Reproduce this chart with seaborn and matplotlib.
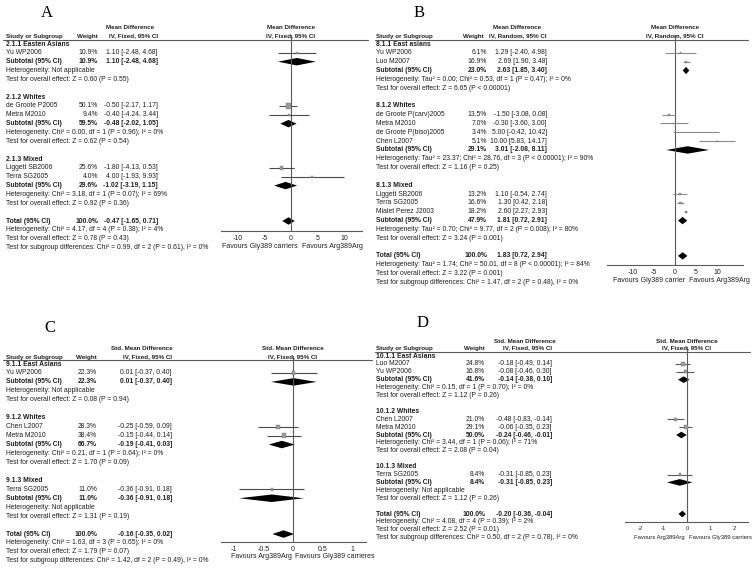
import numpy as np
import pandas as pd
import matplotlib.pyplot as plt
import seaborn as sns

sns.set_style('white')
plt.rcParams['font.family'] = ['Liberation Sans', 'DejaVu Sans']

# ---- A: mean difference, IV fixed
a_groups = ['2.1.1 Easten Asians', '2.1.2 Whites', '2.1.3 Mixed']
a_studies = [['Yu WP2006'], ['de Groote P2005', 'Metra M2010'], ['Liggett SB2006', 'Terra SG2005']]
a_weight = [[10.9], [50.1, 9.4], [25.6, 4.0]]
a_est = [[1.10], [-0.50, -0.40], [-1.80, 4.00]]
a_low = [[-2.48], [-2.17, -4.24], [-4.13, -1.93]]
a_high = [[4.68], [1.17, 3.44], [0.53, 9.93]]
a_sub = [[10.9, 1.10, -2.48, 4.68], [59.5, -0.48, -2.02, 1.05], [29.6, -1.02, -3.19, 1.15]]
a_het = ['Heterogeneity: Not applicable',
         'Heterogeneity: Chi² = 0.00, df = 1 (P = 0.96); I² = 0%',
         'Heterogeneity: Chi² = 3.18, df = 1 (P = 0.07); I² = 69%']
a_z = ['Test for overall effect: Z = 0.60 (P = 0.55)',
       'Test for overall effect: Z = 0.62 (P = 0.54)',
       'Test for overall effect: Z = 0.92 (P = 0.36)']
a_total = [100.0, -0.47, -1.65, 0.71]
a_foot = ['Heterogeneity: Chi² = 4.17, df = 4 (P = 0.38); I² = 4%',
          'Test for overall effect: Z = 0.78 (P = 0.43)',
          'Test for subgroup differences: Chi² = 0.99, df = 2 (P = 0.61), I² = 0%']
a_ticks = [-10, -5, 0, 5, 10]
a_favours = ['Favours Gly389 carriers', 'Favours Arg389Arg']

# ---- B: mean difference, IV random
b_groups = ['8.1.1 East asians', '8.1.2 Whites', '8.1.3 Mixed']
b_studies = [['Yu WP2006', 'Luo M2007'],
             ['de Groote P(carv)2005', 'Metra M2010', 'de Groote P(biso)2005', 'Chen L2007'],
             ['Liggett SB2006', 'Terra SG2005', 'Mialet Perez J2003']]
b_weight = [[6.1, 16.9], [13.5, 7.0, 3.4, 5.1], [13.2, 16.6, 18.2]]
b_est = [[1.29, 2.69], [-1.50, -0.30, 5.00, 10.00], [1.10, 1.30, 2.60]]
b_low = [[-2.40, 1.90], [-3.08, -3.60, -0.42, 5.83], [-0.54, 0.42, 2.27]]
b_high = [[4.98, 3.48], [0.08, 3.00, 10.42, 14.17], [2.74, 2.18, 2.93]]
b_sub = [[23.0, 2.63, 1.85, 3.40], [29.1, 3.01, -2.08, 8.11], [47.9, 1.81, 0.72, 2.91]]
b_het = ['Heterogeneity: Tau² = 0.00; Chi² = 0.53, df = 1 (P = 0.47); I² = 0%',
         'Heterogeneity: Tau² = 23.37; Chi² = 28.76, df = 3 (P < 0.00001); I² = 90%',
         'Heterogeneity: Tau² = 0.70; Chi² = 9.77, df = 2 (P = 0.008); I² = 80%']
b_z = ['Test for overall effect: Z = 6.65 (P < 0.00001)',
       'Test for overall effect: Z = 1.16 (P = 0.25)',
       'Test for overall effect: Z = 3.24 (P = 0.001)']
b_total = [100.0, 1.83, 0.72, 2.94]
b_foot = ['Heterogeneity: Tau² = 1.74; Chi² = 50.01, df = 8 (P < 0.00001); I² = 84%',
          'Test for overall effect: Z = 3.22 (P = 0.001)',
          'Test for subgroup differences: Chi² = 1.47, df = 2 (P = 0.48), I² = 0%']
b_ticks = [-10, -5, 0, 5, 10]
b_favours = ['Favours Gly389 carrier', 'Favours Arg389Arg']

# ---- C: std. mean difference, IV fixed
c_groups = ['9.1.1 East Asians', '9.1.2 Whites', '9.1.3 Mixed']
c_studies = [['Yu WP2006'], ['Chen L2007', 'Metra M2010'], ['Terra SG2005']]
c_weight = [[22.3], [28.3, 38.4], [11.0]]
c_est = [[0.01], [-0.25, -0.15], [-0.36]]
c_low = [[-0.37], [-0.59, -0.44], [-0.91]]
c_high = [[0.40], [0.09, 0.14], [0.18]]
c_sub = [[22.3, 0.01, -0.37, 0.40], [66.7, -0.19, -0.41, 0.03], [11.0, -0.36, -0.91, 0.18]]
c_het = ['Heterogeneity: Not applicable',
         'Heterogeneity: Chi² = 0.21, df = 1 (P = 0.64); I² = 0%',
         'Heterogeneity: Not applicable']
c_z = ['Test for overall effect: Z = 0.08 (P = 0.94)',
       'Test for overall effect: Z = 1.70 (P = 0.09)',
       'Test for overall effect: Z = 1.31 (P = 0.19)']
c_total = [100.0, -0.16, -0.35, 0.02]
c_foot = ['Heterogeneity: Chi² = 1.63, df = 3 (P = 0.65); I² = 0%',
          'Test for overall effect: Z = 1.79 (P = 0.07)',
          'Test for subgroup differences: Chi² = 1.42, df = 2 (P = 0.49), I² = 0%']
c_ticks = [-1, -0.5, 0, 0.5, 1]
c_favours = ['Favours Arg389Arg', 'Favours Gly389 carrieres']

# ---- D: std. mean difference, IV fixed
d_groups = ['10.1.1 East Asians', '10.1.2 Whites', '10.1.3 Mixed']
d_studies = [['Luo M2007', 'Yu WP2006'], ['Chen L2007', 'Metra M2010'], ['Terra SG2005']]
d_weight = [[24.8, 16.8], [21.0, 29.1], [8.4]]
d_est = [[-0.18, -0.08], [-0.48, -0.06], [-0.31]]
d_low = [[-0.49, -0.46], [-0.83, -0.35], [-0.85]]
d_high = [[0.14, 0.30], [-0.14, 0.23], [0.23]]
d_sub = [[41.6, -0.14, -0.38, 0.10], [50.0, -0.24, -0.46, -0.01], [8.4, -0.31, -0.85, 0.23]]
d_het = ['Heterogeneity: Chi² = 0.15, df = 1 (P = 0.70); I² = 0%',
         'Heterogeneity: Chi² = 3.44, df = 1 (P = 0.06); I² = 71%',
         'Heterogeneity: Not applicable']
d_z = ['Test for overall effect: Z = 1.12 (P = 0.26)',
       'Test for overall effect: Z = 2.08 (P = 0.04)',
       'Test for overall effect: Z = 1.12 (P = 0.26)']
d_total = [100.0, -0.20, -0.36, -0.04]
d_foot = ['Heterogeneity: Chi² = 4.08, df = 4 (P = 0.39); I² = 2%',
          'Test for overall effect: Z = 2.52 (P = 0.01)',
          'Test for subgroup differences: Chi² = 0.50, df = 2 (P = 0.78), I² = 0%']
d_ticks = [-2, -1, 0, 1, 2]
d_favours = ['Favours Arg389Arg', 'Favours Gly389 carriers']

W, H = 753, 569
FS = 4.9
HFS = 4.5
TXT = '#1e1e1e'
LINE = '#5a5a5a'

fig = plt.figure(figsize=(W / 100, H / 100), dpi=100)
ov = fig.add_axes([0, 0, 1, 1])
ov.set_xlim(0, W)
ov.set_ylim(H, 0)
ov.axis('off')


def eff(v):
    return f'{v[1]:.2f} [{v[2]:.2f}, {v[3]:.2f}]'


def diamond(ax, r, v, hh=0.42):
    ax.fill([v[2], v[1], v[3], v[1]], [r, r - hh, r, r + hh], color='black', lw=0)


def put(x, yy, s, bold=False, ha='left', fs=FS):
    ov.text(x, yy, s, fontsize=fs, weight='bold' if bold else 'normal',
            ha=ha, va='center', color=TXT)


def draw_panel(letter, measure, method, groups, studies, weight, est, low, high,
               sub, het, z, total, foot, ticks, favours, L):
    y = lambda r: L['y0'] + L['h'] * r
    ov.text(L['lx'], L['ly'], letter, family='Liberation Serif', fontsize=12,
            ha='center', va='center', color='black')
    # header
    put(L['xh'], L['yh1'], measure, True, 'center', HFS)
    put(L['xe'], L['yh2'], method, True, 'right', HFS)
    put(L['xs'], L['yh2'], 'Study or Subgroup', True, 'left', HFS)
    put(L['xw'] - L['wd'], L['yh2'], 'Weight', True, 'right', HFS)
    put(L['zero'], L['yh1'], measure, True, 'center', HFS)
    put(L['zero'], L['yh2'], method, True, 'center', HFS)
    ov.plot([L['lx0'], L['lx1']], [L['yl'], L['yl']], color=LINE, lw=0.8)

    # forest axes placed in pixel space
    yt, yb = L['yh2'] - 1, L['ya']
    ax = fig.add_axes([L['al'] / W, 1 - yb / H, (L['ar'] - L['al']) / W, (yb - yt) / H])
    ax.set_xlim((L['al'] - L['zero']) / L['sc'], (L['ar'] - L['zero']) / L['sc'])
    ax.set_ylim((yb - L['y0']) / L['h'], (yt - L['y0']) / L['h'])
    ax.patch.set_alpha(0)

    recs = []
    r = 0
    for gi, g in enumerate(groups):
        put(L['xs'], y(r), g, True)
        r += 1
        for si, s in enumerate(studies[gi]):
            v = [weight[gi][si], est[gi][si], low[gi][si], high[gi][si]]
            put(L['xs'], y(r), s)
            put(L['xw'], y(r), f'{v[0]:.1f}%', ha='right')
            put(L['xe'], y(r), eff(v), ha='right')
            recs.append({'row': r, 'w': v[0], 'est': v[1], 'lo': v[2], 'hi': v[3]})
            r += 1
        v = sub[gi]
        put(L['xs'], y(r), 'Subtotal (95% CI)', True)
        put(L['xw'], y(r), f'{v[0]:.1f}%', True, 'right')
        put(L['xe'], y(r), eff(v), True, 'right')
        diamond(ax, r, v)
        r += 1
        put(L['xs'], y(r), het[gi])
        put(L['xs'], y(r + 1), z[gi])
        r += 3
    put(L['xs'], y(r), 'Total (95% CI)', True)
    put(L['xw'], y(r), f'{total[0]:.1f}%', True, 'right')
    put(L['xe'], y(r), eff(total), True, 'right')
    diamond(ax, r, total)
    for k, t in enumerate(foot):
        put(L['xs'], y(r + 1 + k), t)

    df = pd.DataFrame(recs)
    ax.hlines(df['row'], df['lo'], df['hi'], color=L['cl'], lw=0.8, zorder=2)
    sns.scatterplot(data=df, x='est', y='row', size='w', sizes=(0, L['sq']), size_norm=(0, 100),
                    marker='s', color='#9a9a9a', edgecolor='#7a7a7a', linewidth=0.3,
                    legend=False, ax=ax, zorder=3)
    ax.axvline(0, color=LINE, lw=0.8, zorder=1)

    sns.despine(ax=ax, left=True, top=True, right=True)
    ax.spines['bottom'].set_color(LINE)
    ax.spines['bottom'].set_linewidth(0.8)
    ax.set_yticks([])
    ax.set_xticks(ticks)
    ax.set_xticklabels([f'{t:g}' for t in ticks])
    ax.tick_params(axis='x', direction='inout', length=4, width=0.8, color=LINE,
                   labelsize=L['ffs'], labelcolor=TXT, pad=1)
    ax.set_xlabel('')
    ax.set_ylabel('')
    put(L['fl'], L['ya'] + 15, favours[0], ha=L['fha'][0], fs=L['ffs'])
    put(L['fr'], L['ya'] + 15, favours[1], ha=L['fha'][1], fs=L['ffs'])


LA = dict(lx=47, ly=13, xh=130, yh1=27, yh2=36, xs=6, xw=98, wd=0, xe=158, lx0=3, lx1=368, yl=39.5,
          y0=44, h=8.85, zero=291, sc=5.3, al=221, ar=362, ya=231, sq=30, cl='#4a4a4a',
          fl=298, fr=302, fha=('right', 'left'), ffs=FS + 0.1)
LB = dict(lx=419, ly=13, xh=517, yh1=27, yh2=36, xs=376, xw=487, wd=3, xe=547, lx0=375, lx1=748, yl=39.5,
          y0=44, h=8.83, zero=675, sc=4.2, al=607, ar=743, ya=265, sq=14, cl='#8a8a8a',
          fl=685, fr=689, fha=('right', 'left'), ffs=FS + 0.1)
LC = dict(lx=50, ly=328, xh=142, yh1=348, yh2=357, xs=6, xw=97, wd=0, xe=172, lx0=3, lx1=372, yl=359.5,
          y0=364, h=8.95, zero=293, sc=59, al=221, ar=366, ya=542, sq=28, cl='#4a4a4a',
          fl=292, fr=295, fha=('right', 'left'), ffs=FS + 0.1)
LD = dict(lx=423, ly=323, xh=525, yh1=341, yh2=348, xs=376, xw=485, wd=0, xe=552, lx0=375, lx1=750, yl=352,
          y0=356, h=7.9, zero=687, sc=23.5, al=625, ar=748, ya=522, sq=28, cl='#5a5a5a',
          fl=685, fr=689, fha=('right', 'left'), ffs=4.2)

draw_panel('A', 'Mean Difference', 'IV, Fixed, 95% CI', a_groups, a_studies, a_weight, a_est,
           a_low, a_high, a_sub, a_het, a_z, a_total, a_foot, a_ticks, a_favours, LA)
draw_panel('B', 'Mean Difference', 'IV, Random, 95% CI', b_groups, b_studies, b_weight, b_est,
           b_low, b_high, b_sub, b_het, b_z, b_total, b_foot, b_ticks, b_favours, LB)
draw_panel('C', 'Std. Mean Difference', 'IV, Fixed, 95% CI', c_groups, c_studies, c_weight, c_est,
           c_low, c_high, c_sub, c_het, c_z, c_total, c_foot, c_ticks, c_favours, LC)
draw_panel('D', 'Std. Mean Difference', 'IV, Fixed, 95% CI', d_groups, d_studies, d_weight, d_est,
           d_low, d_high, d_sub, d_het, d_z, d_total, d_foot, d_ticks, d_favours, LD)

fig.savefig('out.png', dpi=100)
